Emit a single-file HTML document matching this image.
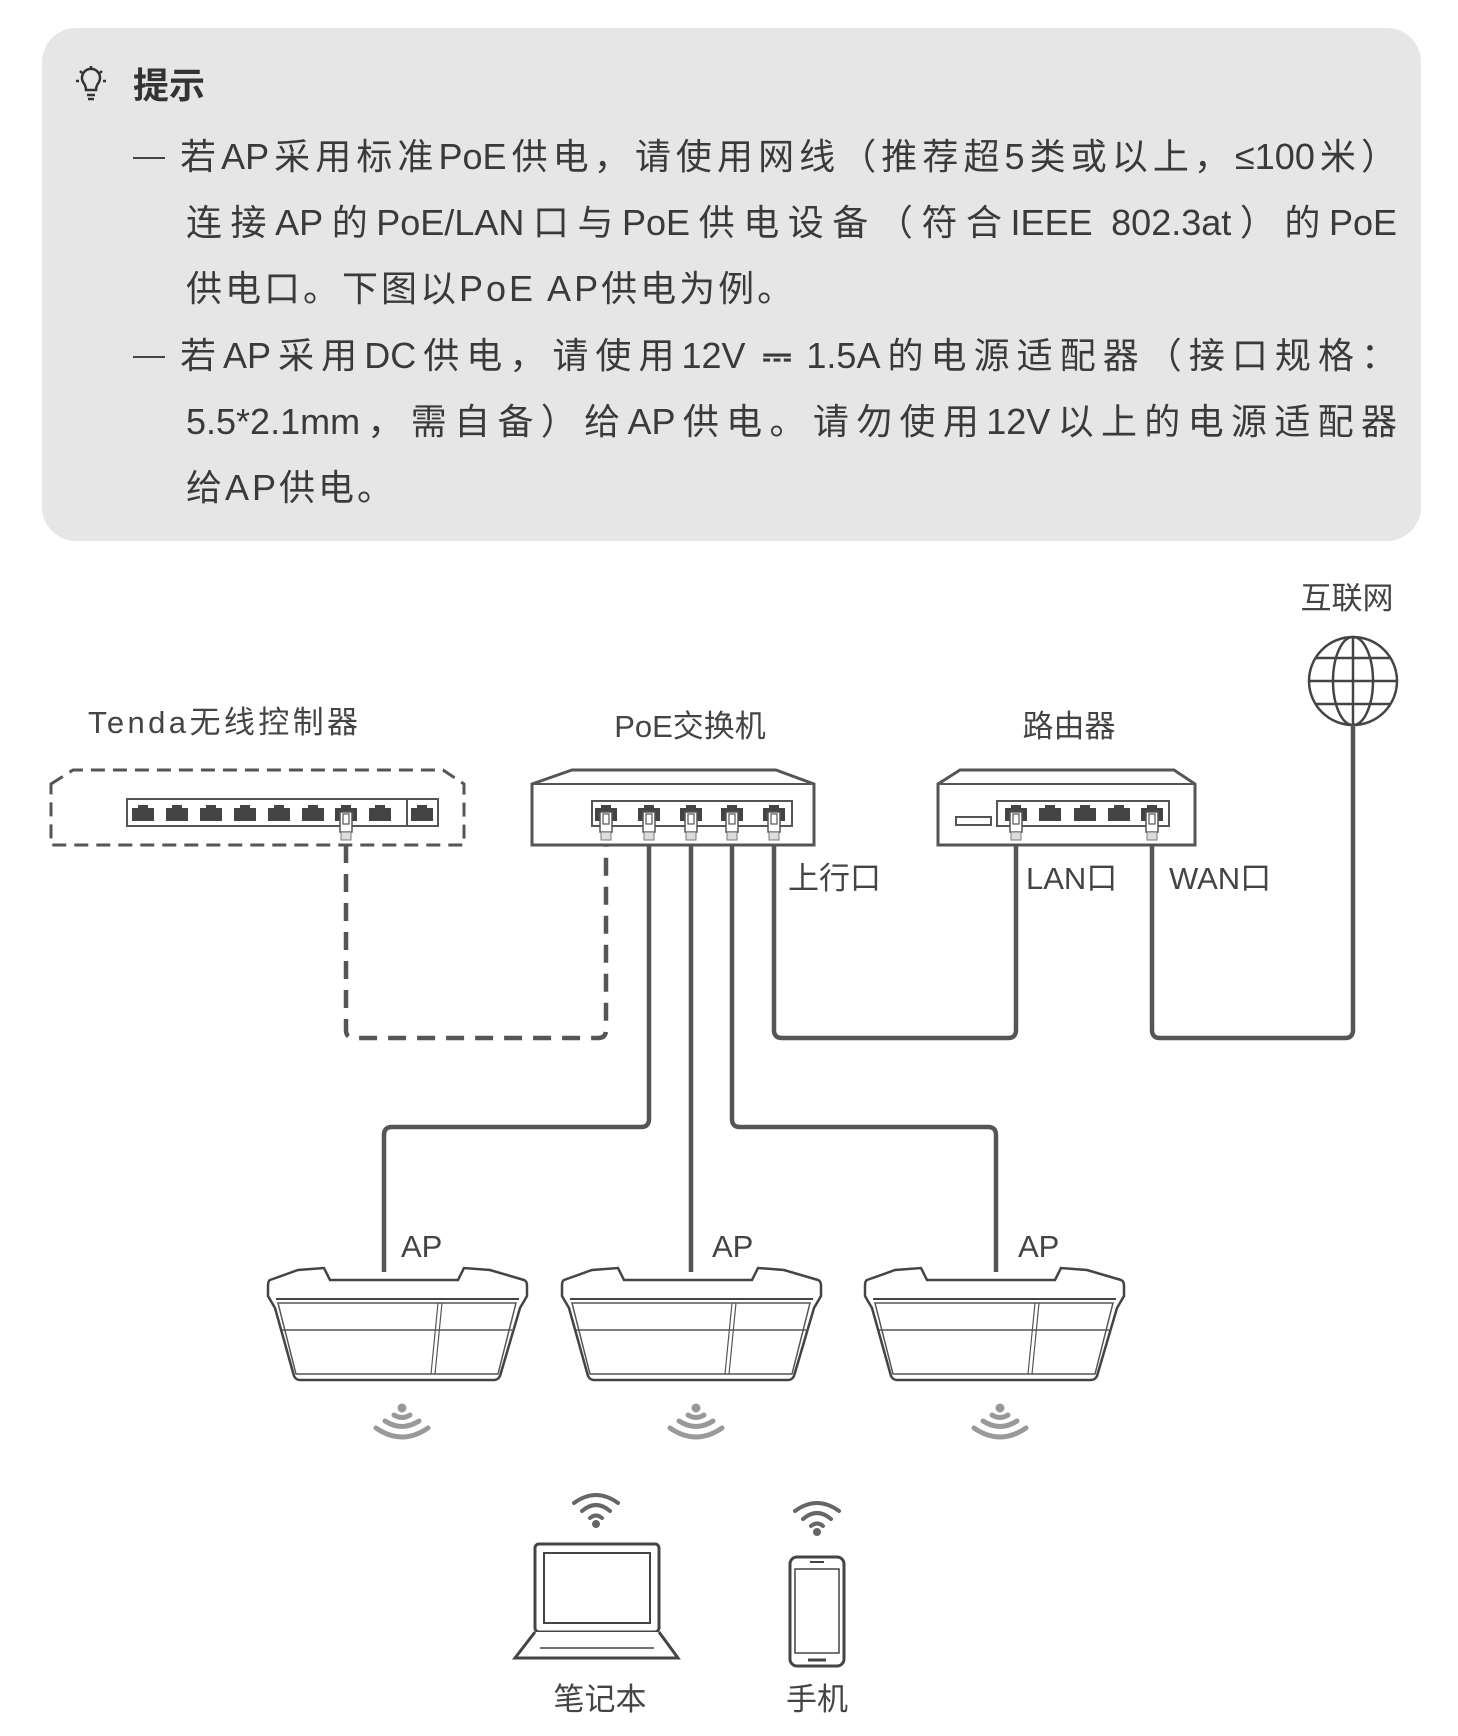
<!DOCTYPE html>
<html><head><meta charset="utf-8"><style>
html,body{margin:0;padding:0;background:#fff;}
body{width:1458px;height:1736px;position:relative;overflow:hidden;font-family:"Liberation Sans","Noto Sans CJK SC",sans-serif;color:#333;}
.box{position:absolute;left:42px;top:28px;width:1379px;height:513px;background:#e6e6e6;border-radius:34px;}
.t{position:absolute;white-space:nowrap;font-size:36px;color:#3a3a3a;line-height:40px;}
.j{text-align:justify;text-align-last:justify;white-space:normal;}
.d{position:absolute;left:133px;width:32px;height:2px;background:#444;}
</style></head><body>
<div class="box"></div>
<svg style="position:absolute;left:0;top:0" width="1458" height="1736" viewBox="0 0 1458 1736">
<g stroke="#333" stroke-width="2.5" fill="none">
<path d="M83 82 a9 9 0 1 1 16 0 q-3 4 -3 8 h-10 q0 -4 -3 -8z"/>
<line x1="87" y1="95" x2="95" y2="95"/><line x1="88" y1="99" x2="94" y2="99"/>
<line x1="91" y1="66" x2="91" y2="69"/><line x1="76" y1="81" x2="79" y2="81"/><line x1="103" y1="81" x2="106" y2="81"/>
<line x1="80" y1="71" x2="82" y2="73"/><line x1="102" y1="71" x2="100" y2="73"/>
</g>
</svg>
<div class="t" style="left:133px;top:66px;font-weight:bold;font-size:36px;color:#333">提示</div>
<div class="d" style="top:157px"></div>
<div class="t j" style="left:180px;top:137px;width:1217px">若AP采用标准PoE供电，请使用网线（推荐超5类或以上，≤100米）</div>
<div class="t j" style="left:186px;top:203px;width:1211px">连接AP的PoE/LAN口与PoE供电设备（符合IEEE 802.3at）的PoE</div>
<div class="t" style="left:186px;top:269px;letter-spacing:3px">供电口。下图以PoE AP供电为例。</div>
<div class="d" style="top:356px"></div>
<div class="t j" style="left:180px;top:336px;width:1217px">若AP采用DC供电，请使用12V <b style="letter-spacing:-2px">⎓</b> 1.5A的电源适配器（接口规格：</div>
<div class="t j" style="left:186px;top:402px;width:1211px">5.5*2.1mm，需自备）给AP供电。请勿使用12V以上的电源适配器</div>
<div class="t" style="left:186px;top:468px;letter-spacing:3px">给AP供电。</div>

<svg style="position:absolute;left:0;top:0" width="1458" height="1736" viewBox="0 0 1458 1736" font-family="Liberation Sans, Noto Sans CJK SC, sans-serif">
<defs>
<g id="port"><path d="M-11 -10 h6 v-3 h10 v3 h6 v13 h-22z" fill="#444"/></g>
<g id="plug"><rect x="-6" y="-6" width="12" height="20" fill="#fff" stroke="#555" stroke-width="1.5"/><rect x="-3" y="-4" width="6" height="10" fill="none" stroke="#555" stroke-width="1.2"/><rect x="-5" y="14" width="10" height="8" fill="#ddd" stroke="#777" stroke-width="1"/></g>
<g id="ap">
<path d="M2 14 L30 4 L56 2 L62 14 L190 14 L196 2 L222 4 L256 14 Q259 15 259 20 L259 30 L252 42 L232 110 Q230 114 226 114 L32 114 Q28 114 26 110 L7 42 L0 30 L0 20 Q0 15 2 14Z" fill="#fff" stroke="#444" stroke-width="2.5"/>
<path d="M8 33 L251 33" stroke="#444" stroke-width="2"/>
<path d="M10 37 L248 37 L230 108 L28 108Z" fill="none" stroke="#555" stroke-width="1.5"/>
<path d="M14 64 L244 64" stroke="#555" stroke-width="1.5"/>
<path d="M170 37 L163 108 M174 37 L167 108" stroke="#555" stroke-width="1.2"/>
</g>
<g id="wa" fill="none" stroke="#999" stroke-width="5" stroke-linecap="round">
<path d="M-26 10 Q0 28 26 10"/><path d="M-17 3 Q0 14 17 3"/><path d="M-8 -3 Q0 2 8 -3"/><circle cx="0" cy="-10" r="2" fill="#999"/>
</g>
<g id="wb" fill="none" stroke="#666" stroke-width="4" stroke-linecap="round">
<path d="M-22 -8 Q0 -24 22 -8"/><path d="M-14 0 Q0 -12 14 0"/><path d="M-6 7 Q0 2 6 7"/><circle cx="0" cy="13" r="2" fill="#666"/>
</g>
</defs>
<g fill="#444" font-size="31">
<text x="1347" y="609" text-anchor="middle">互联网</text>
<text x="88" y="733" textLength="270">Tenda无线控制器</text>
<text x="690" y="737" text-anchor="middle">PoE交换机</text>
<text x="1069" y="737" text-anchor="middle">路由器</text>
<text x="788" y="889">上行口</text>
<text x="1026" y="889">LAN口</text>
<text x="1169" y="889">WAN口</text>
<text x="401" y="1257">AP</text>
<text x="712" y="1257">AP</text>
<text x="1018" y="1257">AP</text>
<text x="600" y="1710" text-anchor="middle">笔记本</text>
<text x="817" y="1710" text-anchor="middle">手机</text>
</g>
<g fill="none" stroke="#444" stroke-width="2.5">
<circle cx="1353" cy="681" r="44"/><ellipse cx="1353" cy="681" rx="20" ry="44"/>
<line x1="1353" y1="637" x2="1353" y2="725"/><line x1="1309" y1="681" x2="1397" y2="681"/>
<path d="M1316 658 H1390 M1316 704 H1390"/>
</g>
<g fill="none" stroke="#555" stroke-width="4.5" stroke-linejoin="round">
<path d="M774 845 V1030 q0 8 8 8 H1008 q8 0 8 -8 V845"/>
<path d="M1152 845 V1030 q0 8 8 8 H1345 q8 0 8 -8 V725"/>
<path d="M649 845 V1119 q0 8 -8 8 H392 q-8 0 -8 8 V1272"/>
<path d="M691 845 V1272"/>
<path d="M732 845 V1119 q0 8 8 8 H988 q8 0 8 8 V1272"/>
<path d="M346 845 V1030 q0 8 8 8 H598 q8 0 8 -8 V845" stroke-dasharray="18 11"/>
</g>
<path d="M51 784 L73 770 H443 L464 784 V845 H51Z" fill="#fff" stroke="#555" stroke-width="3" stroke-dasharray="14 8"/>
<rect x="127" y="799" width="280" height="27" fill="#fff" stroke="#555" stroke-width="2"/>
<rect x="407" y="799" width="31" height="27" fill="#fff" stroke="#555" stroke-width="2"/>
<use href="#port" x="143" y="818"/><use href="#port" x="177" y="818"/><use href="#port" x="211" y="818"/><use href="#port" x="245" y="818"/><use href="#port" x="279" y="818"/><use href="#port" x="313" y="818"/><use href="#port" x="346" y="818"/><use href="#port" x="380" y="818"/><use href="#port" x="422" y="818"/>
<use href="#plug" x="346" y="818"/>
<path d="M532 784 L572 770 H776 L814 784 V845 H532Z" fill="#fff" stroke="#555" stroke-width="3"/>
<line x1="532" y1="784" x2="814" y2="784" stroke="#555" stroke-width="2"/>
<rect x="592" y="801" width="200" height="25" fill="#fff" stroke="#555" stroke-width="2"/>
<use href="#port" x="606" y="818"/><use href="#port" x="649" y="818"/><use href="#port" x="691" y="818"/><use href="#port" x="732" y="818"/><use href="#port" x="774" y="818"/>
<use href="#plug" x="606" y="818"/><use href="#plug" x="649" y="818"/><use href="#plug" x="691" y="818"/><use href="#plug" x="732" y="818"/><use href="#plug" x="774" y="818"/>
<path d="M938 784 L960 770 H1174 L1195 784 V845 H938Z" fill="#fff" stroke="#555" stroke-width="3"/>
<line x1="938" y1="784" x2="1195" y2="784" stroke="#555" stroke-width="2"/>
<rect x="956" y="817" width="35" height="8" fill="#fff" stroke="#555" stroke-width="2"/>
<rect x="997" y="801" width="172" height="25" fill="#fff" stroke="#555" stroke-width="2"/>
<use href="#port" x="1016" y="818"/><use href="#port" x="1050" y="818"/><use href="#port" x="1085" y="818"/><use href="#port" x="1119" y="818"/><use href="#port" x="1152" y="818"/>
<use href="#plug" x="1016" y="818"/><use href="#plug" x="1152" y="818"/>
<use href="#ap" x="268" y="1266"/><use href="#ap" x="562" y="1266"/><use href="#ap" x="865" y="1266"/>
<use href="#wa" x="402" y="1418"/><use href="#wa" x="696" y="1418"/><use href="#wa" x="1000" y="1418"/>
<rect x="535" y="1544" width="124" height="88" rx="4" fill="#fff" stroke="#444" stroke-width="3"/>
<rect x="544" y="1553" width="106" height="70" fill="none" stroke="#444" stroke-width="2"/>
<path d="M535 1632 L515 1658 H678 L659 1632" fill="#fff" stroke="#444" stroke-width="3"/>
<line x1="540" y1="1648" x2="654" y2="1648" stroke="#444" stroke-width="1.5"/>
<use href="#wb" x="596" y="1511"/>
<rect x="790" y="1557" width="54" height="109" rx="7" fill="#fff" stroke="#444" stroke-width="3"/>
<rect x="795" y="1569" width="44" height="84" fill="none" stroke="#444" stroke-width="1.5"/>
<line x1="810" y1="1562" x2="824" y2="1562" stroke="#444" stroke-width="2"/>
<line x1="808" y1="1660" x2="826" y2="1660" stroke="#444" stroke-width="3"/>
<use href="#wb" x="817" y="1519"/>
</svg>
</body></html>
